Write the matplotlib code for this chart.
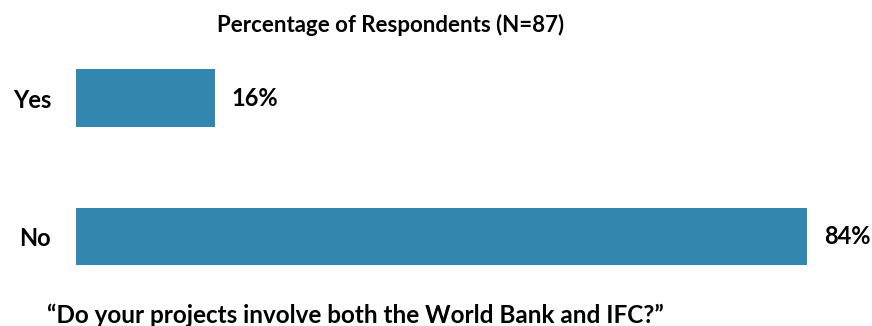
import matplotlib.pyplot as plt

categories = ['Yes', 'No']
values = [16, 84]
title = 'Percentage of Respondents (N=87)'
question = '\u201cDo your projects involve both the World Bank and IFC?\u201d'

W, H = 872, 326
plt.rcParams['font.family'] = ['Lato', 'DejaVu Sans']
plt.rcParams['font.weight'] = 'bold'

fig = plt.figure(figsize=(W / 100, H / 100), dpi=100)
# axes in pixel terms: left 76, top 30, bottom 300
ax = fig.add_axes([76 / W, (H - 300) / H, 1 - 76 / W, 270 / H])

ypos = [1, 0]
ax.barh(ypos, values, height=0.42, color='#3386B0')
ax.set_xlim(0, 796 / 731 * 84)
ax.set_ylim(-0.46, 1.496)

for y, v in zip(ypos, values):
    ax.annotate(f'{v}%', (v, y), xytext=(12, 0), textcoords='offset points',
                va='center', ha='left', fontsize=17, fontweight='bold')

ax.set_yticks(ypos)
ax.set_yticklabels(categories, fontsize=17, fontweight='bold')
ax.tick_params(axis='y', length=0, pad=18)
ax.set_xticks([])
for s in ax.spines.values():
    s.set_visible(False)

fig.text(391 / W, 1 - 25 / H, title, ha='center', va='center', fontsize=16, fontweight='bold')
fig.text(47 / W, (H - 323) / H, question, ha='left', va='baseline', fontsize=17.5, fontweight='bold')

fig.savefig('out.png', dpi=100)
